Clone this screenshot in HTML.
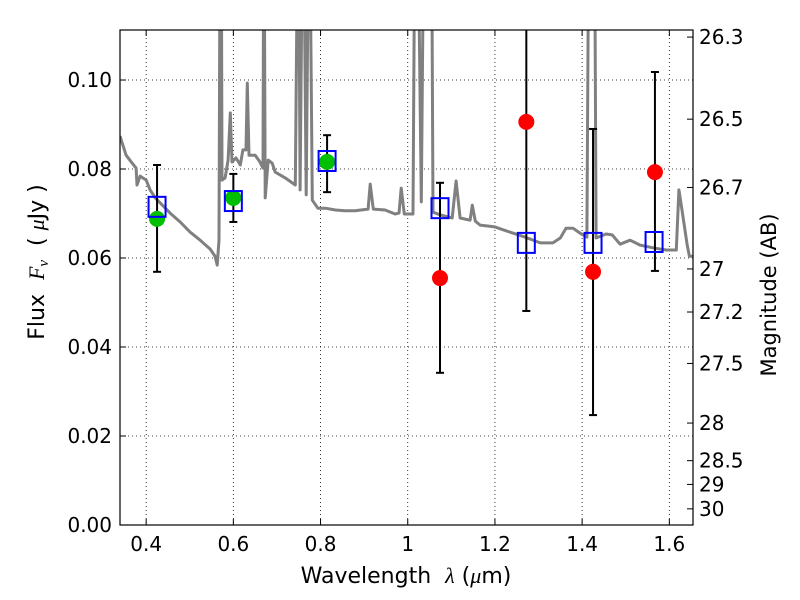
<!DOCTYPE html>
<html><head><meta charset="utf-8"><style>
body{margin:0;background:#fff;}
svg{display:block;font-family:"DejaVu Sans","Liberation Sans",sans-serif;}
.m{font-family:"Liberation Serif","DejaVu Serif",serif;font-style:italic;}
</style></head><body>
<svg id="chart" width="800" height="600" viewBox="0 0 800 600" xmlns="http://www.w3.org/2000/svg">
<defs><clipPath id="plotclip"><rect x="120" y="30" width="573" height="495"/></clipPath></defs>
<rect x="0" y="0" width="800" height="600" fill="#fff"/>
<g id="grid"></g>
<g id="spec" clip-path="url(#plotclip)"></g>
<g id="marks" clip-path="url(#plotclip)"></g>
<rect x="120" y="30" width="573" height="495" fill="none" stroke="#000" stroke-width="1.2"/>
<g id="axes"></g>
<text x="406" y="583" font-size="22" text-anchor="middle" xml:space="preserve">Wavelength  <tspan class="m">λ</tspan> (<tspan class="m">μ</tspan>m)</text>
<text transform="translate(44,262) rotate(-90)" font-size="22" text-anchor="middle" xml:space="preserve">Flux  <tspan class="m">F</tspan><tspan class="m" font-size="15" dy="4">ν</tspan><tspan dy="-4">  ( </tspan><tspan class="m">μ</tspan>Jy )</text>
<text transform="translate(776,295) rotate(-90)" font-size="21" text-anchor="middle">Magnitude (AB)</text>
</svg>
<script>
const specWave=[0.340,0.354,0.368,0.377,0.379,0.386,0.400,0.409,0.421,0.437,0.455,0.478,0.501,0.524,0.547,0.558,0.563,0.567,0.570,0.572,0.574,0.581,0.588,0.593,0.597,0.606,0.616,0.622,0.629,0.632,0.636,0.650,0.661,0.668,0.670,0.673,0.680,0.689,0.696,0.719,0.742,0.749,0.753,0.760,0.767,0.774,0.781,0.794,0.811,0.834,0.856,0.879,0.909,0.914,0.921,0.948,0.971,0.980,0.985,0.992,1.012,1.017,1.022,1.031,1.038,1.054,1.058,1.074,1.102,1.111,1.120,1.143,1.148,1.155,1.166,1.200,1.235,1.269,1.304,1.333,1.350,1.363,1.379,1.395,1.411,1.416,1.428,1.432,1.455,1.469,1.487,1.510,1.533,1.567,1.593,1.616,1.622,1.629,1.641,1.646,1.660];
const specFlux=[0.0874,0.0831,0.0813,0.0802,0.0764,0.0784,0.0775,0.0753,0.0735,0.0719,0.0701,0.0681,0.0658,0.0640,0.0620,0.0604,0.0584,0.0640,0.15,0.15,0.0775,0.0780,0.0820,0.0926,0.0816,0.0825,0.0809,0.0843,0.0843,0.0993,0.0831,0.0831,0.0816,0.0802,0.15,0.0735,0.0820,0.0813,0.0793,0.0780,0.0764,0.15,0.0753,0.15,0.0742,0.15,0.0730,0.0712,0.0712,0.0708,0.0706,0.0706,0.0710,0.0766,0.0710,0.0708,0.0699,0.0701,0.0757,0.0699,0.0699,0.15,0.15,0.0726,0.15,0.15,0.0703,0.0697,0.0690,0.0773,0.0690,0.0685,0.0719,0.0683,0.0674,0.0670,0.0658,0.0647,0.0634,0.0634,0.0645,0.0667,0.0667,0.0656,0.0647,0.15,0.15,0.0645,0.0654,0.0652,0.0631,0.0640,0.0629,0.0622,0.0618,0.0618,0.0753,0.0708,0.0629,0.0604,0.0604];
const bandWave=[0.425,0.600,0.815,1.074,1.272,1.425,1.565];
const modelFlux=[0.0715,0.0728,0.0818,0.0712,0.0634,0.0634,0.0636];
const detWave=[0.425,0.600,0.815];
const detFlux=[0.0688,0.0735,0.0816];
const ndWave=[1.074,1.272,1.425,1.567];
const ndFlux=[0.0555,0.0906,0.0569,0.0793];
const errWave=[0.425,0.600,0.815,1.074,1.272,1.425,1.567];
const errHigh=[0.0809,0.0789,0.0876,0.0769,0.1300,0.0890,0.1018];
const errLow=[0.0569,0.0681,0.0748,0.0342,0.0481,0.0247,0.0571];
const xTicks=[0.4,0.6,0.8,1.0,1.2,1.4,1.6];
const xTickLabels=["0.4","0.6","0.8","1","1.2","1.4","1.6"];
const yTicks=[0,0.02,0.04,0.06,0.08,0.10];
const yTickLabels=["0.00","0.02","0.04","0.06","0.08","0.10"];
const magTicks=[26.3,26.5,26.7,27,27.2,27.5,28,28.5,29,30];
const magLabels=["26.3","26.5","26.7","27","27.2","27.5","28","28.5","29","30"];

const NS="http://www.w3.org/2000/svg";
const X0=120,X1=693,Y0=525,Y1=30,W0=0.34,W1=1.6543,F0=0,F1=0.11124;
function sx(w){return X0+(w-W0)/(W1-W0)*(X1-X0);}
function sy(f){return Y0-(f-F0)/(F1-F0)*(Y0-Y1);}
function magToFlux(m){return Math.pow(10,(23.9-m)/2.5);}
function mk(tag,attrs,parent){const e=document.createElementNS(NS,tag);for(const k in attrs)e.setAttribute(k,attrs[k]);parent.appendChild(e);return e;}
const grid=document.getElementById('grid'),axes=document.getElementById('axes'),spec=document.getElementById('spec'),marks=document.getElementById('marks');

xTicks.forEach((t,i)=>{const x=sx(t);
 const g=mk('line',{x1:x,x2:x,y1:Y1,y2:Y0,stroke:'#000','stroke-width':0.8,'stroke-dasharray':'1,3'},grid);
 
 
 mk('line',{x1:x,x2:x,y1:Y0,y2:Y0-6,stroke:'#000'},axes);
 mk('line',{x1:x,x2:x,y1:Y1,y2:Y1+6,stroke:'#000'},axes);
 const t2=mk('text',{x:x,y:551,'font-size':20,'text-anchor':'middle'},axes);t2.textContent=xTickLabels[i];
 
 
});
yTicks.forEach((t,i)=>{const y=sy(t);
 if(i>0){const g=mk('line',{x1:X0,x2:X1,y1:y,y2:y,stroke:'#000','stroke-width':0.8,'stroke-dasharray':'1,3'},grid);
 
 }
 mk('line',{x1:X0,x2:X0+6,y1:y,y2:y,stroke:'#000'},axes);
 const t2=mk('text',{x:112,y:y+7,'font-size':20,'text-anchor':'end'},axes);t2.textContent=yTickLabels[i];
 
 
});
magTicks.forEach((m,i)=>{const y=sy(magToFlux(m));
 mk('line',{x1:X1,x2:X1-6,y1:y,y2:y,stroke:'#000'},axes);
 const t2=mk('text',{x:699,y:y+7,'font-size':20,'text-anchor':'start'},axes);t2.textContent=magLabels[i];
 
 
});
let d=specWave.map((w,i)=>(i?'L':'M')+sx(w).toFixed(1)+','+sy(specFlux[i]).toFixed(1)).join('');
const p=mk('path',{d:d,fill:'none',stroke:'#808080','stroke-width':3,'stroke-linejoin':'round'},spec);


errWave.forEach((w,i)=>{const x=sx(w),yh=sy(errHigh[i]),yl=sy(errLow[i]);
 const l=mk('line',{x1:x,x2:x,y1:yh,y2:yl,stroke:'#000','stroke-width':2},marks);
 
 
 mk('line',{x1:x-4,x2:x+4,y1:yh,y2:yh,stroke:'#000','stroke-width':2},marks);
 mk('line',{x1:x-4,x2:x+4,y1:yl,y2:yl,stroke:'#000','stroke-width':2},marks);
});
detWave.forEach((w,i)=>{const c=mk('circle',{cx:sx(w),cy:sy(detFlux[i]),r:8,fill:'#00bf00'},marks);
 
 });
ndWave.forEach((w,i)=>{const c=mk('circle',{cx:sx(w),cy:sy(ndFlux[i]),r:8,fill:'#ff0000'},marks);
 
 });
bandWave.forEach((w,i)=>{const r=mk('rect',{x:sx(w)-8.5,y:sy(modelFlux[i])-10,width:17,height:20,fill:'none',stroke:'#0000ff','stroke-width':2},marks);
 
 });
</script>
</body></html>
